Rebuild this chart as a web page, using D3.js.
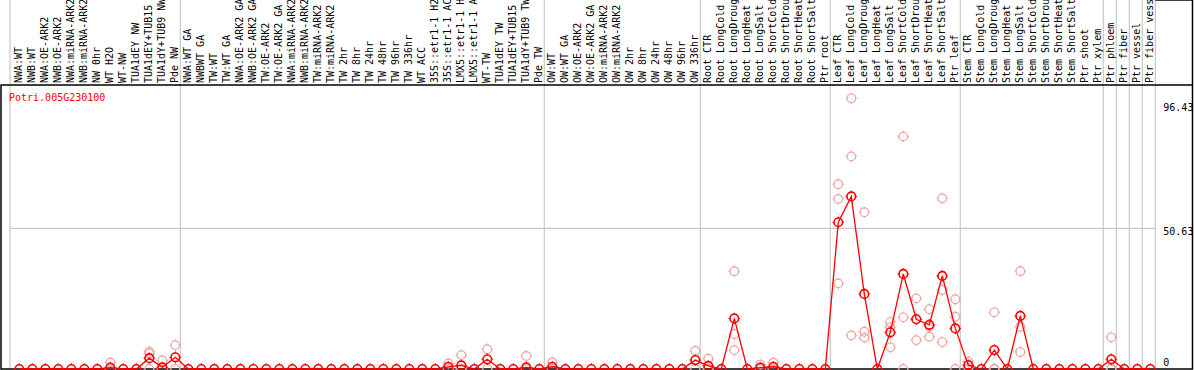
<!DOCTYPE html>
<html>
<head>
<meta charset="utf-8">
<script src="https://cdn.jsdelivr.net/npm/d3@7"></script>
<style>
  body { margin: 0; background: #fff; }
  svg { display: block; }
  text { font-family: 'DejaVu Sans Mono', monospace; font-size: 10px; }
</style>
</head>
<body>
<svg id="chart" width="1194" height="370"></svg>
<script>
const geneName = 'Potri.005G230100';

const categories = [
  'NWA:WT', 'NWB:WT', 'NWA:OE-ARK2', 'NWB:OE-ARK2', 'NWA:miRNA-ARK2', 'NWB:miRNA-ARK2',
  'NW 0hr', 'WT H2O', 'WT-NW', 'TUA1dEY NW', 'TUA1dEY+TUB15 NW', 'TUA1dY+TUB9 NW', 'Pde NW',
  'NWA:WT GA', 'NWBWT GA', 'TW:WT', 'TW:WT GA', 'NWA:OE-ARK2 GA', 'NWB:OE-ARK2 GA',
  'TW:OE-ARK2', 'TW:OE-ARK2 GA', 'NWA:miRNA-ARK2', 'NWB:miRNA-ARK2', 'TW:miRNA-ARK2', 'TW:miRNA-ARK2',
  'TW 2hr', 'TW 8hr', 'TW 24hr', 'TW 48hr', 'TW 96hr', 'TW 336hr', 'WT ACC',
  '35S::etr1-1 H2O', '35S::etr1-1 ACC', 'LMX5::etr1-1 H2O', 'LMX5::etr1-1 ACC',
  'WT-TW', 'TUA1dEY TW', 'TUA1dEY+TUB15 TW', 'TUA1dY+TUB9 TW', 'Pde TW',
  'OW:WT', 'OW:WT GA', 'OW:OE-ARK2', 'OW:OE-ARK2 GA', 'OW:miRNA-ARK2', 'OW:miRNA-ARK2',
  'OW 2hr', 'OW 8hr', 'OW 24hr', 'OW 48hr', 'OW 96hr', 'OW 336hr',
  'Root CTR', 'Root LongCold', 'Root LongDrought', 'Root LongHeat', 'Root LongSalt',
  'Root ShortCold', 'Root ShortDrought', 'Root ShortHeat', 'Root ShortSalt', 'Ptr root',
  'Leaf CTR', 'Leaf LongCold', 'Leaf LongDrought', 'Leaf LongHeat', 'Leaf LongSalt',
  'Leaf ShortCold', 'Leaf ShortDrought', 'Leaf ShortHeat', 'Leaf ShortSalt', 'Ptr leaf',
  'Stem CTR', 'Stem LongCold', 'Stem LongDrought', 'Stem LongHeat', 'Stem LongSalt',
  'Stem ShortCold', 'Stem ShortDrought', 'Stem ShortHeat', 'Stem ShortSalt', 'Ptr shoot',
  'Ptr xylem', 'Ptr phloem', 'Ptr fiber', 'Ptr vessel', 'Ptr fiber vessel'
];

// number of categories in each block between the grey separators
const groupSizes = [13, 28, 12, 10, 10, 11, 1, 1, 1, 1];

// mean expression per category
const means = [
  0, 0, 0, 0, 0, 0, 0, 0.5, 0, 0, 3.9, 0.6, 4.2,
  0, 0, 0, 0, 0, 0, 0, 0, 0, 0, 0, 0, 0, 0, 0, 0, 0, 0, 0, 0,
  0.8, 1.3, 0, 3.5, 0, 0, 0.6, 0,
  0.8, 0, 0, 0, 0, 0, 0, 0, 0, 0, 0, 3.2,
  1.1, 0, 18.2, 0, 0.5, 0.8, 0, 0, 0, 0,
  52.8, 62.1, 27.0, 0, 13.2, 34.2, 17.9, 15.9, 33.5, 14.6,
  1.4, 0, 6.8, 0, 19.1, 0, 0, 0, 0, 0,
  0, 3.5, 0, 0, 0
];

// individual replicates (only the ones off the mean are listed)
const replicates = [
  [], [], [], [], [], [], [], [2.3, 0, 0], [], [], [6.2, 5.6, 0], [3.1, 0, 0], [8.6, 0],
  [], [], [], [], [], [], [], [], [], [], [], [], [], [], [], [], [], [], [], [],
  [2.0, 0, 0], [5.0, 0, 0], [], [7.1, 0], [], [], [4.7, 0, 0], [],
  [2.4, 0, 0], [], [], [], [], [], [], [], [], [], [], [6.5, 0],
  [3.7, 0, 0], [], [35.2, 12.6, 6.8], [], [1.6, 0, 0], [2.3, 0, 0], [], [], [], [],
  [66.5, 61.2, 30.8], [97.4, 76.5, 12.1], [56.4, 13.4, 11.3], [], [16.9, 15.0, 7.8],
  [83.7, 18.6, 0], [25.4, 17.9, 10.4], [21.5, 15.2, 11.6], [61.4, 28.4, 9.7], [25.1, 18.8, 0],
  [2.6, 1.2, 0.4], [], [20.4, 0, 0], [], [35.2, 15.2, 6.1], [], [], [], [], [],
  [], [11.4, 0, 0], [], [], []
];

const yTicks = [0, 50.63, 96.43];

function drawMarker(sel, color, width) {
  const r = 4.3;
  sel.append('circle')
    .attr('r', r)
    .attr('fill', 'none')
    .attr('stroke', color)
    .attr('stroke-width', width);
  // small ticks round the ring, like the original bitmap marker
  sel.append('path')
    .attr('d', `M0,${-r - 1.5}V${-r}M0,${r}V${r + 1.5}M${-r - 1.5},0H${-r}M${r},0H${r + 1.5}`)
    .attr('stroke', color)
    .attr('stroke-width', 1);
}

document.addEventListener('DOMContentLoaded', () => {
  const svg = d3.select('#chart');
  const width = +svg.attr('width');

  const labelBase = 83;
  const headerY = 85;
  const baseY = 369;

  const x = d3.scaleBand()
    .domain(d3.range(categories.length))
    .range([12.8, 12.8 + 13 * categories.length]);
  const cx = i => x(i) + x.bandwidth() / 2;

  const y = d3.scaleLinear()
    .domain([0, 96.43])
    .range([baseY, 101]);

  const plotRight = x.range()[1] - 1.5;

  // separators
  const seps = [10];
  let acc = 0;
  for (const n of groupSizes) {
    acc += n;
    seps.push(x(acc - 1) + x.bandwidth() - 1.5);
  }
  svg.append('g')
    .selectAll('line')
    .data(seps)
    .enter().append('line')
      .attr('x1', d => d)
      .attr('x2', d => d)
      .attr('y1', 0)
      .attr('y2', baseY)
      .attr('stroke', '#c8c8c8')
      .attr('stroke-width', 1.2);

  // horizontal grid (middle tick only)
  svg.append('line')
    .attr('x1', 10)
    .attr('x2', plotRight)
    .attr('y1', y(yTicks[1]))
    .attr('y2', y(yTicks[1]))
    .attr('stroke', '#c8c8c8')
    .attr('stroke-width', 1.2);

  // frame
  svg.append('path')
    .attr('d', `M1,${headerY}H${width - 1.5}V${baseY}H1Z M${plotRight},0H${width - 1.5}V${headerY}`)
    .attr('fill', 'none')
    .attr('stroke', '#000')
    .attr('stroke-width', 1.5);

  // category labels
  svg.append('g')
    .selectAll('text')
    .data(categories)
    .enter().append('text')
      .attr('transform', (d, i) => `translate(${cx(i) + 2.5},${labelBase}) rotate(-90)`)
      .attr('fill', '#000')
      .text(d => d);

  // right axis labels
  svg.append('g')
    .selectAll('text')
    .data(yTicks)
    .enter().append('text')
      .attr('x', plotRight + 8)
      .attr('y', d => Math.min(Math.max(y(d) + 7, 111), baseY - 3.5))
      .attr('fill', '#000')
      .text(d => d);

  svg.append('text')
    .attr('x', 9)
    .attr('y', 100.5)
    .attr('fill', '#ff0000')
    .text(geneName);

  // replicate points
  const reps = [];
  replicates.forEach((vals, i) => vals.forEach(v => reps.push({ i, v })));
  svg.append('g')
    .selectAll('g')
    .data(reps)
    .enter().append('g')
      .attr('transform', d => `translate(${cx(d.i)},${y(d.v)})`)
      .call(drawMarker, '#f0a0a0', 1.2);

  // mean line
  const line = d3.line()
    .x((d, i) => cx(i))
    .y(d => y(d));
  svg.append('path')
    .datum(means)
    .attr('d', line)
    .attr('fill', 'none')
    .attr('stroke', '#ff0000')
    .attr('stroke-width', 1.3);

  svg.append('g')
    .selectAll('g')
    .data(means)
    .enter().append('g')
      .attr('transform', (d, i) => `translate(${cx(i)},${y(d)})`)
      .call(drawMarker, '#ff0000', 1.6);
});
</script>
</body>
</html>
